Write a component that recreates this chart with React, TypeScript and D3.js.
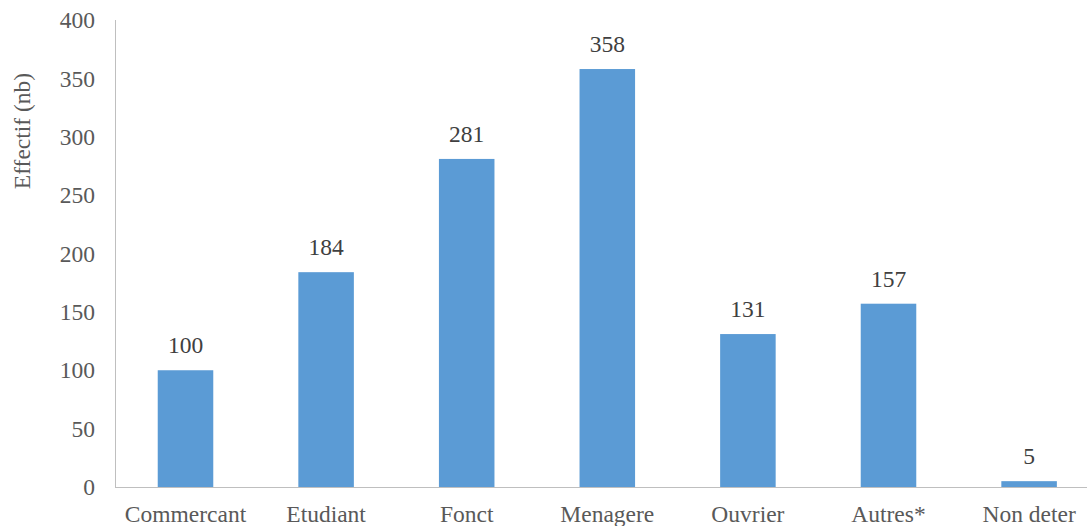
import React from "react";
import * as d3 from "d3";

const categories = ["Commercant", "Etudiant", "Fonct", "Menagere", "Ouvrier", "Autres*", "Non deter"];
const values = [100, 184, 281, 358, 131, 157, 5];
const yTicks = [0, 50, 100, 150, 200, 250, 300, 350, 400];
const yTitle = "Effectif (nb)";

const W = 1087;
const H = 526;
const FONT = "'Liberation Serif', 'Times New Roman', serif";

export default function App() {
  const x = d3
    .scaleBand<string>()
    .domain(categories)
    .range([115.2, 1099.4])
    .paddingInner(0.605)
    .paddingOuter(0.3025);
  const y = d3.scaleLinear().domain([0, 400]).range([487, 20]);
  const bw = x.bandwidth();

  return (
    <svg
      width={W}
      height={H}
      style={{ position: "absolute", left: 0, top: 0, background: "#fff" }}
      fontFamily={FONT}
    >
      <rect x={0} y={0} width={W} height={H} fill="#fff" />
      {/* axes */}
      <line x1={115.5} x2={115.5} y1={y(400)} y2={y(0)} stroke="#BFBFBF" strokeWidth={1} />
      <line x1={115} x2={W} y1={y(0) + 0.5} y2={y(0) + 0.5} stroke="#BFBFBF" strokeWidth={1} />
      {/* y ticks */}
      {yTicks.map((t) => (
        <text key={t} x={95} y={y(t)} dy="0.35em" textAnchor="end" fontSize={23.5} fill="#595959">
          {t}
        </text>
      ))}
      {/* y title */}
      <text
        transform={`translate(30, 131) rotate(-90)`}
        textAnchor="middle"
        fontSize={23.5}
        fill="#595959"
      >
        {yTitle}
      </text>
      {/* bars */}
      {categories.map((c, i) => (
        <g key={c}>
          <rect x={x(c)!} y={y(values[i])} width={bw} height={y(0) - y(values[i])} fill="#5B9BD5" />
          <text
            x={x(c)! + bw / 2}
            y={y(values[i]) - 17}
            textAnchor="middle"
            fontSize={23.5}
            fill="#404040"
          >
            {values[i]}
          </text>
          <text x={x(c)! + bw / 2} y={521.5} textAnchor="middle" fontSize={23.5} fill="#595959">
            {c}
          </text>
        </g>
      ))}
    </svg>
  );
}
